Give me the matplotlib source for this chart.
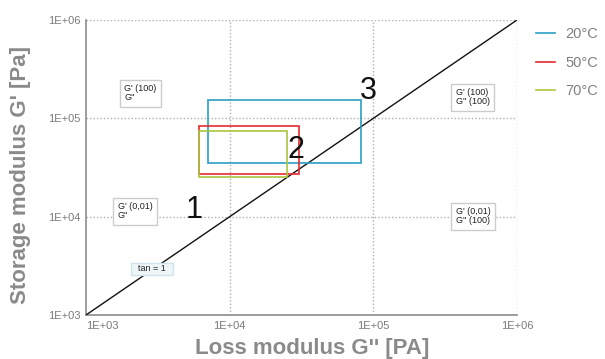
import matplotlib
matplotlib.use("Agg")
import matplotlib.pyplot as plt
from matplotlib.patches import Rectangle
from matplotlib.ticker import FixedLocator, NullLocator

plt.rcParams['font.family'] = ['Liberation Sans', 'DejaVu Sans']

# Data: rectangles (G'' range, G' range) per temperature
series = ["20°C", "50°C", "70°C"]
colors = ["#2a9ec4", "#e82a2e", "#a9c640"]
x_lo = [7100, 6100, 6150]
x_hi = [82000, 30500, 25000]
y_lo = [35500, 27300, 25200]
y_hi = [155000, 84000, 74000]

ticks = [1e3, 1e4, 1e5, 1e6]
tick_labels = ["1E+03", "1E+04", "1E+05", "1E+06"]

region_nums = ["1", "2", "3"]
region_x = [5700, 28700, 93000]
region_y = [11800, 47100, 191000]

boxes = ["G' (100)\nG''", "G' (0,01)\nG''", "G' (100)\nG'' (100)", "G' (0,01)\nG'' (100)"]
box_x = [1840, 1670, 3.75e5, 3.75e5]
box_y = [1.8e5, 1.14e4, 1.64e5, 1.01e4]

fig = plt.figure(figsize=(6.05, 3.59), dpi=100)
ax = fig.add_axes([86/605, 1-315/359, (517-86)/605, (315-20)/359])
ax.set_xscale('log')
ax.set_yscale('log')
ax.set_xlim(1e3, 1e6)
ax.set_ylim(1e3, 1e6)

for s in ['top', 'right']:
    ax.spines[s].set_visible(False)
for s in ['left', 'bottom']:
    ax.spines[s].set_color('#8c8c8c')
    ax.spines[s].set_linewidth(1.2)

ax.xaxis.set_major_locator(FixedLocator(ticks))
ax.yaxis.set_major_locator(FixedLocator(ticks))
ax.xaxis.set_minor_locator(NullLocator())
ax.yaxis.set_minor_locator(NullLocator())
ax.set_xticklabels(tick_labels)
ax.set_yticklabels(tick_labels)
ax.tick_params(length=0, labelsize=8, labelcolor='#7a7a7a', pad=4)
xl = ax.get_xticklabels()
xl[0].set_horizontalalignment('left')

for t in ticks[1:]:
    ax.axvline(t, color='#b0b0b0', lw=1, ls=(0, (1, 1.5)), zorder=0)
    ax.axhline(t, color='#b0b0b0', lw=1, ls=(0, (1, 1.5)), zorder=0)

# tan = 1 line
ax.plot([1e3, 1e6], [1e3, 1e6], color='#111111', lw=1.0, zorder=3)

for name, c, x0, x1, y0, y1 in zip(series, colors, x_lo, x_hi, y_lo, y_hi):
    ax.add_patch(Rectangle((x0, y0), x1 - x0, y1 - y0, fill=False, edgecolor=c, lw=1.2, zorder=4))
    ax.plot([], [], color=c, lw=1.2, label=name)

for t, x, y in zip(region_nums, region_x, region_y):
    ax.text(x, y, t, fontsize=22, color='#111111', ha='center', va='center', zorder=5)

bbox = dict(boxstyle='square,pad=0.5', facecolor='white', edgecolor='#cccccc', lw=1)
for t, x, y in zip(boxes, box_x, box_y):
    ax.text(x, y, t, fontsize=6.5, color='#222222', ha='left', va='center', linespacing=1.0,
            bbox=bbox, zorder=6)

ax.text(2886, 2944, "  tan = 1  ", fontsize=6.5, color='#222222', ha='center', va='center',
        bbox=dict(boxstyle='square,pad=0.2', facecolor='#eef6f8', edgecolor='#cfe3ea', lw=1), zorder=6)

ax.set_xlabel("Loss modulus G'' [PA]", fontsize=16, fontweight='bold', color='#8a8a8a')
ax.set_ylabel("Storage modulus G' [Pa]", fontsize=16, fontweight='bold', color='#8a8a8a')
ax.xaxis.set_label_coords(0.5255, -0.115)
ax.yaxis.set_label_coords(-0.151, 0.4746)
ax.xaxis.label.set_va('center')
ax.yaxis.label.set_va('center')

leg = fig.legend(loc='upper left', bbox_to_anchor=(0.864, 0.961), frameon=False, fontsize=10.5,
                 handlelength=1.3, labelspacing=1.0, handletextpad=0.7)
for txt in leg.get_texts():
    txt.set_color('#808080')

fig.savefig('out.png', dpi=100)
